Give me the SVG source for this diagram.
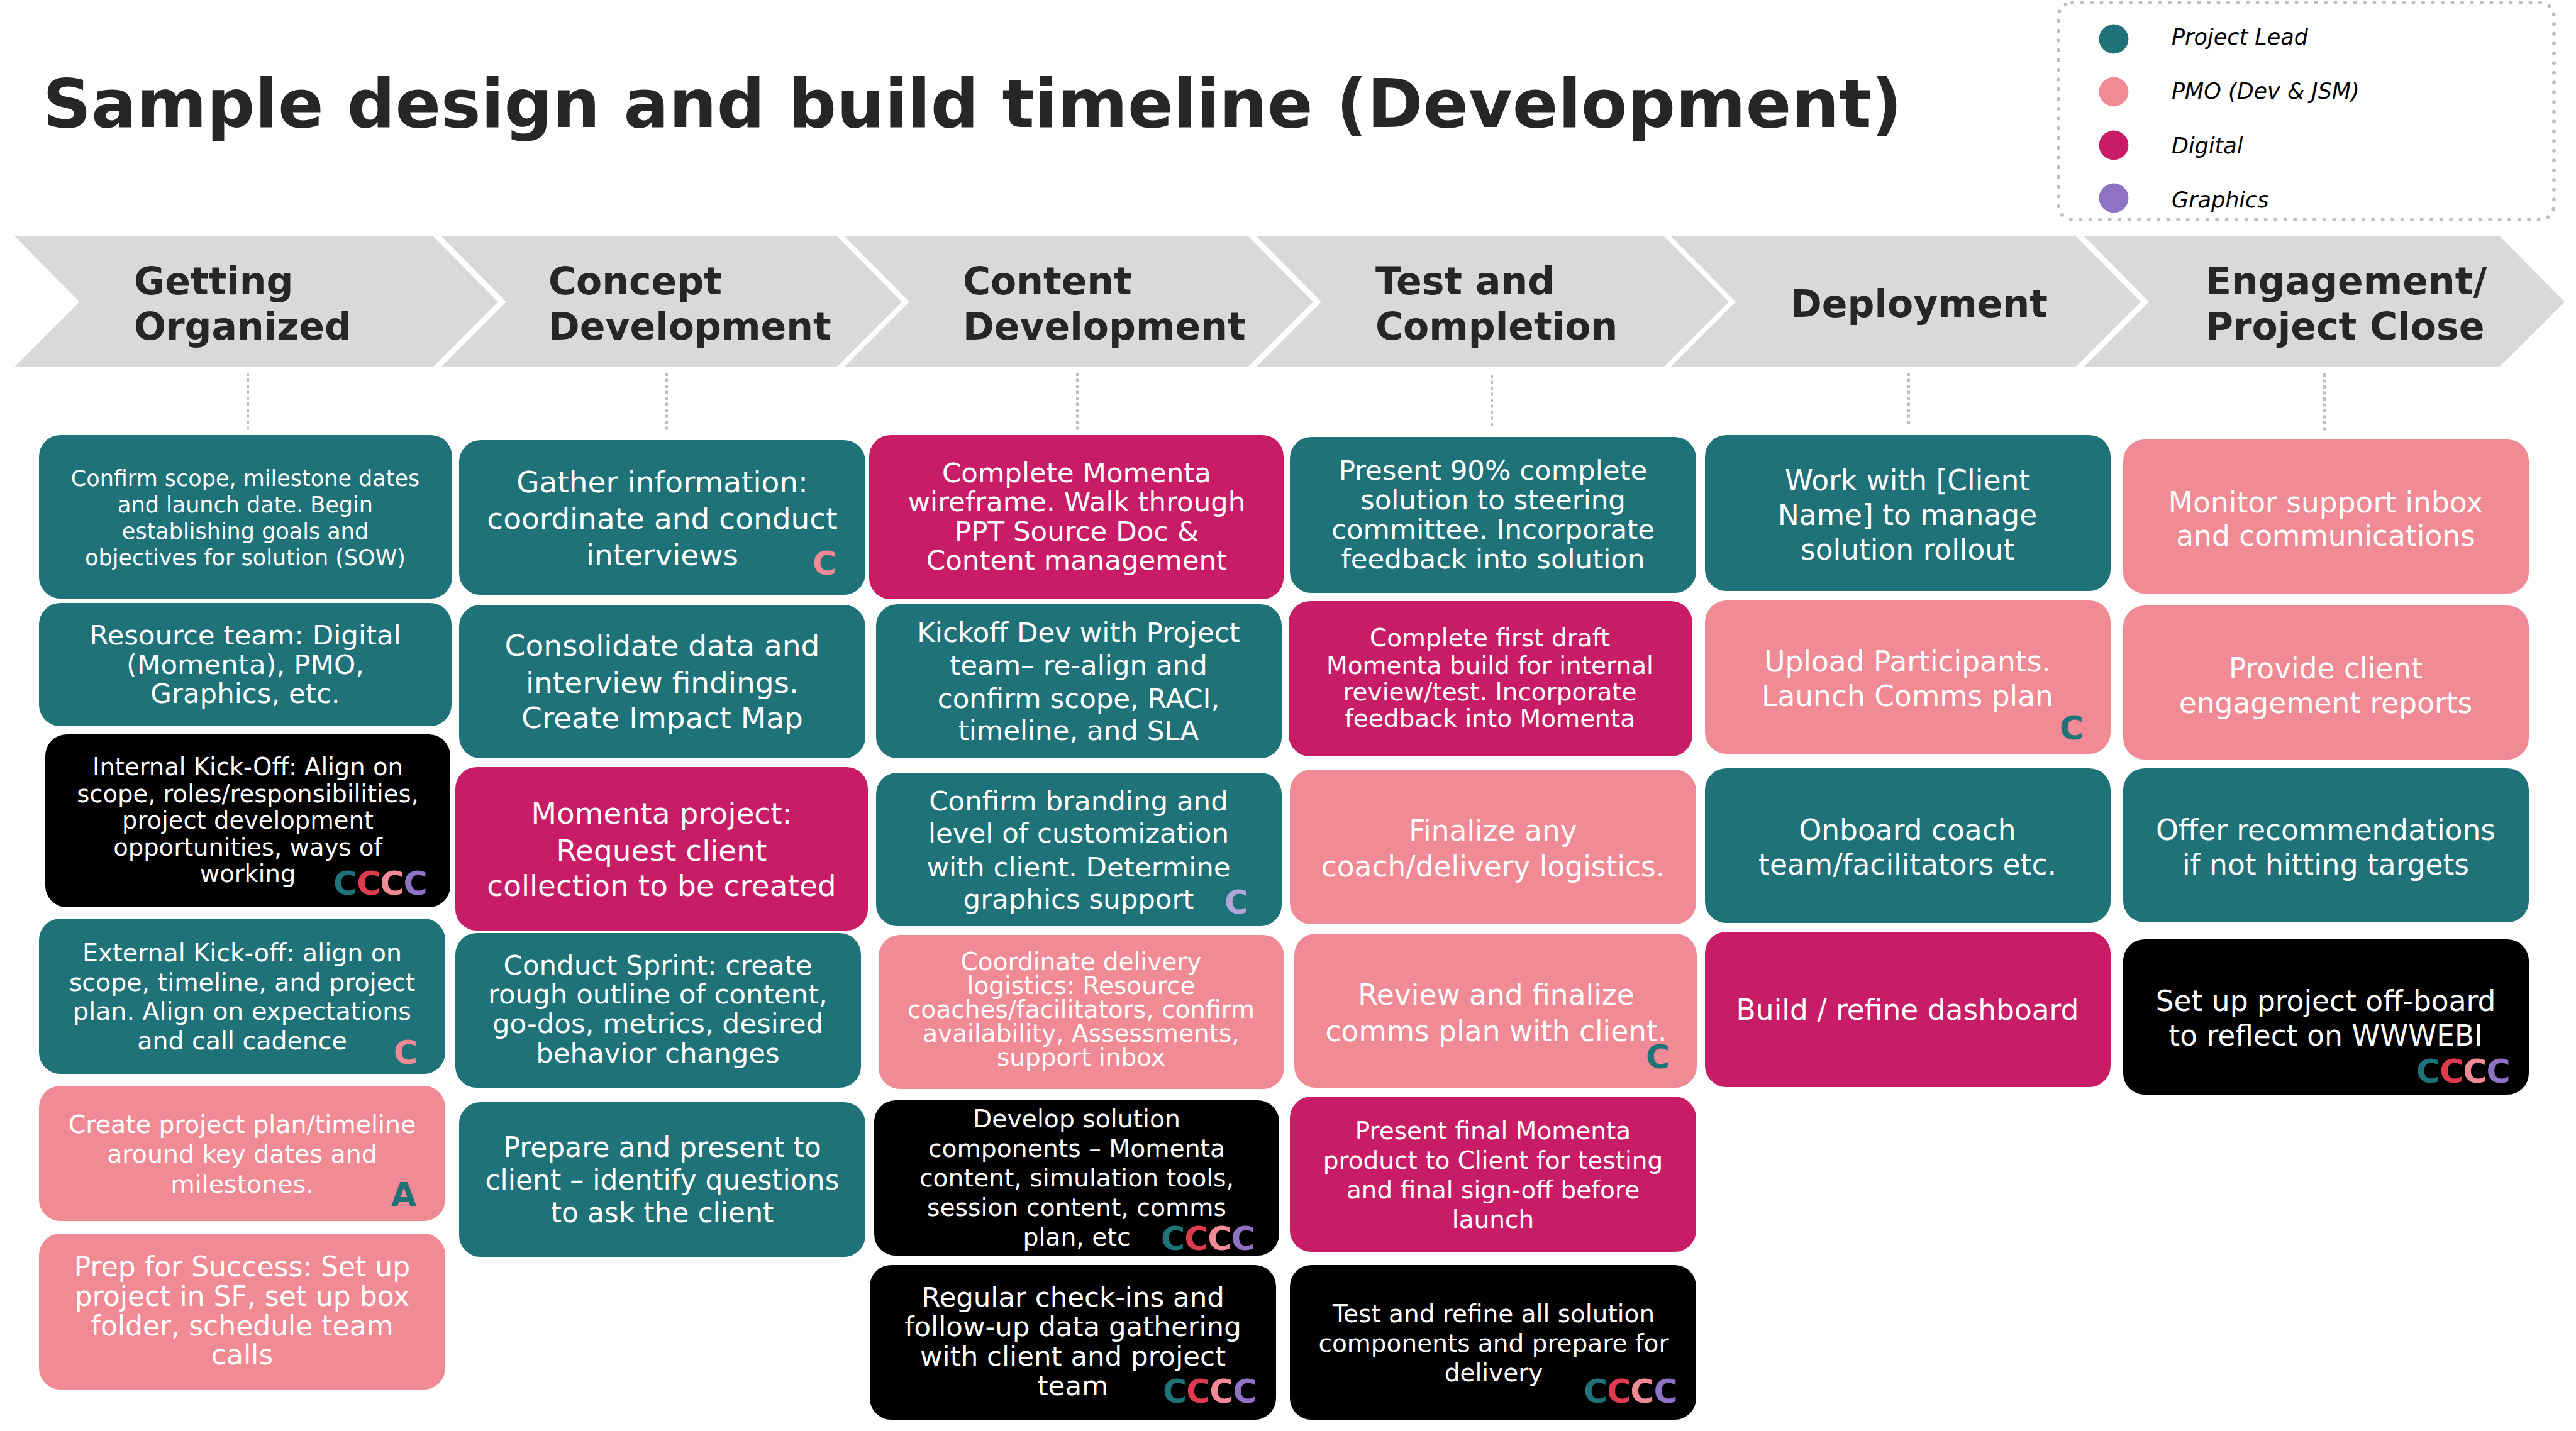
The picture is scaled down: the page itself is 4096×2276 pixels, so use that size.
<svg xmlns="http://www.w3.org/2000/svg" width="4096" height="2276" viewBox="0 0 4096 2276">
<style>
.bg{fill:#ffffff}
.chev{fill:#D9D9D9}
.hdr{font-family:"DejaVu Sans",Verdana,sans-serif;font-weight:bold;font-size:60px;fill:#262626}
.title{font-family:"DejaVu Sans",Verdana,sans-serif;font-weight:bold;font-size:107px;fill:#262626}
.leg{font-family:"DejaVu Sans",Verdana,sans-serif;font-style:italic;font-size:35px;fill:#000}
.t{font-family:"DejaVu Sans",Verdana,sans-serif;fill:#ffffff;text-anchor:middle}
.teal{fill:#1F7278}
.pink{fill:#F08A94}
.mag{fill:#C91C67}
.blk{fill:#000000}
.purp{fill:#8E72C4}
.red{fill:#E03A4E}
.lpurp{fill:#B3A5DA}
.badge{font-family:"DejaVu Sans",Verdana,sans-serif;font-weight:bold;font-size:52px;letter-spacing:-1px}
.conn{stroke:#BFBFBF;stroke-width:4;stroke-dasharray:5 4.5;fill:none}
</style>
<rect class="bg" x="0" y="0" width="4096" height="2276"/>
<text class="title" x="68" y="202">Sample design and build timeline (Development)</text>
<g id="legend">
<rect x="3273" y="4" width="788" height="345" rx="22" fill="none" stroke="#BFBFBF" stroke-width="6" stroke-linecap="round" stroke-dasharray="0 15.5"/>
<circle class="teal" cx="3361" cy="62" r="23.4"/>
<circle class="pink" cx="3361" cy="146" r="23.4"/>
<circle class="mag" cx="3361" cy="231" r="23.4"/>
<circle class="purp" cx="3361" cy="315" r="23.4"/>
<text class="leg" x="3453" y="71">Project Lead</text>
<text class="leg" x="3453" y="157">PMO (Dev &amp; JSM)</text>
<text class="leg" x="3453" y="244">Digital</text>
<text class="leg" x="3453" y="330">Graphics</text>
</g>
<g id="phases">
<g id="phase1"><polygon class="chev" points="23.5,376 689,376 792,480 689,583 23.5,583 126.5,480"/><text class="hdr"><tspan x="213" y="468">Getting</tspan><tspan x="213" y="540">Organized</tspan></text></g>
<g id="phase2"><polygon class="chev" points="702,376 1331,376 1434,480 1331,583 702,583 805,480"/><text class="hdr"><tspan x="872" y="468">Concept</tspan><tspan x="872" y="540">Development</tspan></text></g>
<g id="phase3"><polygon class="chev" points="1343,376 1985,376 2088,480 1985,583 1343,583 1446,480"/><text class="hdr"><tspan x="1531" y="468">Content</tspan><tspan x="1531" y="540">Development</tspan></text></g>
<g id="phase4"><polygon class="chev" points="1998,376 2646,376 2749,480 2646,583 1998,583 2101,480"/><text class="hdr"><tspan x="2187" y="468">Test and</tspan><tspan x="2187" y="540">Completion</tspan></text></g>
<g id="phase5"><polygon class="chev" points="2657,376 3301,376 3404,480 3301,583 2657,583 2760,480"/><text class="hdr" x="2847" y="504">Deployment</text></g>
<g id="phase6"><polygon class="chev" points="3314,376 3975,376 4078,480 3975,583 3314,583 3417,480"/><text class="hdr"><tspan x="3507" y="468">Engagement/</tspan><tspan x="3507" y="540">Project Close</tspan></text></g>
</g>
<g id="connectors">
<line class="conn" x1="394" y1="593" x2="394" y2="687"/>
<line class="conn" x1="1060" y1="593" x2="1060" y2="684"/>
<line class="conn" x1="1713" y1="593" x2="1713" y2="686"/>
<line class="conn" x1="2372" y1="596" x2="2372" y2="680"/>
<line class="conn" x1="3035" y1="593" x2="3035" y2="675"/>
<line class="conn" x1="3696" y1="594" x2="3696" y2="685"/>
</g>
<g id="col1">
<g id="b1"><rect class="teal" x="62" y="692" width="657" height="260" rx="34"/><text class="t" style="font-size:35px"><tspan x="390" y="773">Confirm scope, milestone dates</tspan><tspan x="390" y="815">and launch date. Begin</tspan><tspan x="390" y="857">establishing goals and</tspan><tspan x="390" y="899">objectives for solution (SOW)</tspan></text></g>
<g id="b2"><rect class="teal" x="62" y="959" width="656" height="196" rx="34"/><text class="t" style="font-size:43.5px"><tspan x="390" y="1025">Resource team: Digital</tspan><tspan x="390" y="1072">(Momenta), PMO,</tspan><tspan x="390" y="1118">Graphics, etc.</tspan></text></g>
<g id="b3"><rect class="blk" x="72" y="1168" width="644" height="275" rx="34"/><text class="t" style="font-size:38.5px"><tspan x="394" y="1233">Internal Kick-Off: Align on</tspan><tspan x="394" y="1276">scope, roles/responsibilities,</tspan><tspan x="394" y="1318">project development</tspan><tspan x="394" y="1361">opportunities, ways of</tspan><tspan x="394" y="1403">working</tspan></text><text class="badge" x="530" y="1423"><tspan class="teal">C</tspan><tspan class="red">C</tspan><tspan class="pink">C</tspan><tspan class="purp">C</tspan></text></g>
<g id="b4"><rect class="teal" x="62" y="1461" width="646" height="247" rx="34"/><text class="t" style="font-size:39.5px"><tspan x="385" y="1529">External Kick-off: align on</tspan><tspan x="385" y="1576">scope, timeline, and project</tspan><tspan x="385" y="1622">plan. Align on expectations</tspan><tspan x="385" y="1669">and call cadence</tspan></text><text class="badge pink" x="626" y="1692">C</text></g>
<g id="b5"><rect class="pink" x="62" y="1727" width="646" height="215" rx="34"/><text class="t" style="font-size:39.5px"><tspan x="385" y="1802">Create project plan/timeline</tspan><tspan x="385" y="1849">around key dates and</tspan><tspan x="385" y="1897">milestones.</tspan></text><text class="badge teal" x="622" y="1918">A</text></g>
<g id="b6"><rect class="pink" x="62" y="1962" width="646" height="248" rx="34"/><text class="t" style="font-size:44px"><tspan x="385" y="2030">Prep for Success: Set up</tspan><tspan x="385" y="2077">project in SF, set up box</tspan><tspan x="385" y="2124">folder, schedule team</tspan><tspan x="385" y="2170">calls</tspan></text></g>
</g>
<g id="col2">
<g id="c1"><rect class="teal" x="730" y="700" width="646" height="246" rx="34"/><text class="t" style="font-size:47px"><tspan x="1053" y="783">Gather information:</tspan><tspan x="1053" y="841">coordinate and conduct</tspan><tspan x="1053" y="899">interviews</tspan></text><text class="badge pink" x="1292" y="914">C</text></g>
<g id="c2"><rect class="teal" x="730" y="962" width="646" height="244" rx="34"/><text class="t" style="font-size:47px"><tspan x="1053" y="1043">Consolidate data and</tspan><tspan x="1053" y="1102">interview findings.</tspan><tspan x="1053" y="1158">Create Impact Map</tspan></text></g>
<g id="c3"><rect class="mag" x="724" y="1220" width="656" height="260" rx="34"/><text class="t" style="font-size:47px"><tspan x="1052" y="1310">Momenta project:</tspan><tspan x="1052" y="1369">Request client</tspan><tspan x="1052" y="1425">collection to be created</tspan></text></g>
<g id="c4"><rect class="teal" x="724" y="1484" width="645" height="246" rx="34"/><text class="t" style="font-size:43.5px"><tspan x="1046" y="1550">Conduct Sprint: create</tspan><tspan x="1046" y="1596">rough outline of content,</tspan><tspan x="1046" y="1643">go-dos, metrics, desired</tspan><tspan x="1046" y="1690">behavior changes</tspan></text></g>
<g id="c5"><rect class="teal" x="730" y="1753" width="646" height="246" rx="34"/><text class="t" style="font-size:44px"><tspan x="1053" y="1840">Prepare and present to</tspan><tspan x="1053" y="1892">client – identify questions</tspan><tspan x="1053" y="1944">to ask the client</tspan></text></g>
</g>
<g id="col3">
<g id="d1"><rect class="mag" x="1382" y="692" width="659" height="261" rx="34"/><text class="t" style="font-size:43.5px"><tspan x="1712" y="767">Complete Momenta</tspan><tspan x="1712" y="813">wireframe. Walk through</tspan><tspan x="1712" y="860">PPT Source Doc &amp;</tspan><tspan x="1712" y="906">Content management</tspan></text></g>
<g id="d2"><rect class="teal" x="1393" y="961" width="645" height="245" rx="34"/><text class="t" style="font-size:43.5px"><tspan x="1715" y="1021">Kickoff Dev with Project</tspan><tspan x="1715" y="1073">team– re-align and</tspan><tspan x="1715" y="1126">confirm scope, RACI,</tspan><tspan x="1715" y="1177">timeline, and SLA</tspan></text></g>
<g id="d3"><rect class="teal" x="1393" y="1229" width="645" height="244" rx="34"/><text class="t" style="font-size:43.5px"><tspan x="1715" y="1289">Confirm branding and</tspan><tspan x="1715" y="1340">level of customization</tspan><tspan x="1715" y="1394">with client. Determine</tspan><tspan x="1715" y="1445">graphics support</tspan></text><text class="badge lpurp" x="1947" y="1453">C</text></g>
<g id="d4"><rect class="pink" x="1397" y="1487" width="645" height="245" rx="34"/><text class="t" style="font-size:39px"><tspan x="1719" y="1543">Coordinate delivery</tspan><tspan x="1719" y="1581">logistics: Resource</tspan><tspan x="1719" y="1619">coaches/facilitators, confirm</tspan><tspan x="1719" y="1657">availability, Assessments,</tspan><tspan x="1719" y="1695">support inbox</tspan></text></g>
<g id="d5"><rect class="blk" x="1390" y="1750" width="644" height="247" rx="34"/><text class="t" style="font-size:39.3px"><tspan x="1712" y="1793">Develop solution</tspan><tspan x="1712" y="1840">components – Momenta</tspan><tspan x="1712" y="1887">content, simulation tools,</tspan><tspan x="1712" y="1934">session content, comms</tspan><tspan x="1712" y="1981">plan, etc</tspan></text><text class="badge" x="1846" y="1988"><tspan class="teal">C</tspan><tspan class="red">C</tspan><tspan class="pink">C</tspan><tspan class="purp">C</tspan></text></g>
<g id="d6"><rect class="blk" x="1383" y="2012" width="646" height="246" rx="34"/><text class="t" style="font-size:43.5px"><tspan x="1706" y="2078">Regular check-ins and</tspan><tspan x="1706" y="2125">follow-up data gathering</tspan><tspan x="1706" y="2172">with client and project</tspan><tspan x="1706" y="2219">team</tspan></text><text class="badge" x="1849" y="2231"><tspan class="teal">C</tspan><tspan class="red">C</tspan><tspan class="pink">C</tspan><tspan class="purp">C</tspan></text></g>
</g>
<g id="col4">
<g id="e1"><rect class="teal" x="2051" y="695" width="646" height="248" rx="34"/><text class="t" style="font-size:43.5px"><tspan x="2374" y="763">Present 90% complete</tspan><tspan x="2374" y="810">solution to steering</tspan><tspan x="2374" y="857">committee. Incorporate</tspan><tspan x="2374" y="904">feedback into solution</tspan></text></g>
<g id="e2"><rect class="mag" x="2049" y="956" width="642" height="247" rx="34"/><text class="t" style="font-size:39px"><tspan x="2369" y="1028">Complete first draft</tspan><tspan x="2369" y="1072">Momenta build for internal</tspan><tspan x="2369" y="1114">review/test. Incorporate</tspan><tspan x="2369" y="1156">feedback into Momenta</tspan></text></g>
<g id="e3"><rect class="pink" x="2051" y="1224" width="646" height="246" rx="34"/><text class="t" style="font-size:45.5px"><tspan x="2374" y="1337">Finalize any</tspan><tspan x="2374" y="1394">coach/delivery logistics.</tspan></text></g>
<g id="e4"><rect class="pink" x="2058" y="1485" width="640" height="245" rx="34"/><text class="t" style="font-size:45.5px"><tspan x="2379" y="1598">Review and finalize</tspan><tspan x="2379" y="1656">comms plan with client.</tspan></text><text class="badge teal" x="2617" y="1699">C</text></g>
<g id="e5"><rect class="mag" x="2051" y="1744" width="646" height="247" rx="34"/><text class="t" style="font-size:39px"><tspan x="2374" y="1812">Present final Momenta</tspan><tspan x="2374" y="1859">product to Client for testing</tspan><tspan x="2374" y="1906">and final sign-off before</tspan><tspan x="2374" y="1953">launch</tspan></text></g>
<g id="e6"><rect class="blk" x="2051" y="2012" width="646" height="246" rx="34"/><text class="t" style="font-size:39px"><tspan x="2375" y="2103">Test and refine all solution</tspan><tspan x="2375" y="2150">components and prepare for</tspan><tspan x="2375" y="2197">delivery</tspan></text><text class="badge" x="2518" y="2231"><tspan class="teal">C</tspan><tspan class="red">C</tspan><tspan class="pink">C</tspan><tspan class="purp">C</tspan></text></g>
</g>
<g id="col5">
<g id="f1"><rect class="teal" x="2711" y="692" width="645" height="248" rx="34"/><text class="t" style="font-size:45.5px"><tspan x="3033" y="780">Work with [Client</tspan><tspan x="3033" y="835">Name] to manage</tspan><tspan x="3033" y="890">solution rollout</tspan></text></g>
<g id="f2"><rect class="pink" x="2711" y="955" width="645" height="244" rx="34"/><text class="t" style="font-size:45.5px"><tspan x="3033" y="1068">Upload Participants.</tspan><tspan x="3033" y="1123">Launch Comms plan</tspan></text><text class="badge teal" x="3275" y="1176">C</text></g>
<g id="f3"><rect class="teal" x="2711" y="1222" width="645" height="246" rx="34"/><text class="t" style="font-size:45.5px"><tspan x="3033" y="1336">Onboard coach</tspan><tspan x="3033" y="1391">team/facilitators etc.</tspan></text></g>
<g id="f4"><rect class="mag" x="2711" y="1482" width="645" height="247" rx="34"/><text class="t" style="font-size:45.5px" x="3033" y="1622">Build / refine dashboard</text></g>
</g>
<g id="col6">
<g id="g1"><rect class="pink" x="3376" y="699" width="645" height="245" rx="34"/><text class="t" style="font-size:45.5px"><tspan x="3698" y="815">Monitor support inbox</tspan><tspan x="3698" y="868">and communications</tspan></text></g>
<g id="g2"><rect class="pink" x="3376" y="963" width="645" height="245" rx="34"/><text class="t" style="font-size:45.5px"><tspan x="3698" y="1079">Provide client</tspan><tspan x="3698" y="1134">engagement reports</tspan></text></g>
<g id="g3"><rect class="teal" x="3376" y="1222" width="645" height="245" rx="34"/><text class="t" style="font-size:45.5px"><tspan x="3698" y="1336">Offer recommendations</tspan><tspan x="3698" y="1391">if not hitting targets</tspan></text></g>
<g id="g4"><rect class="blk" x="3376" y="1494" width="645" height="247" rx="34"/><text class="t" style="font-size:45.5px"><tspan x="3698" y="1608">Set up project off-board</tspan><tspan x="3698" y="1663">to reflect on WWWEBI</tspan></text><text class="badge" x="3842" y="1722"><tspan class="teal">C</tspan><tspan class="red">C</tspan><tspan class="pink">C</tspan><tspan class="purp">C</tspan></text></g>
</g>
</svg>
